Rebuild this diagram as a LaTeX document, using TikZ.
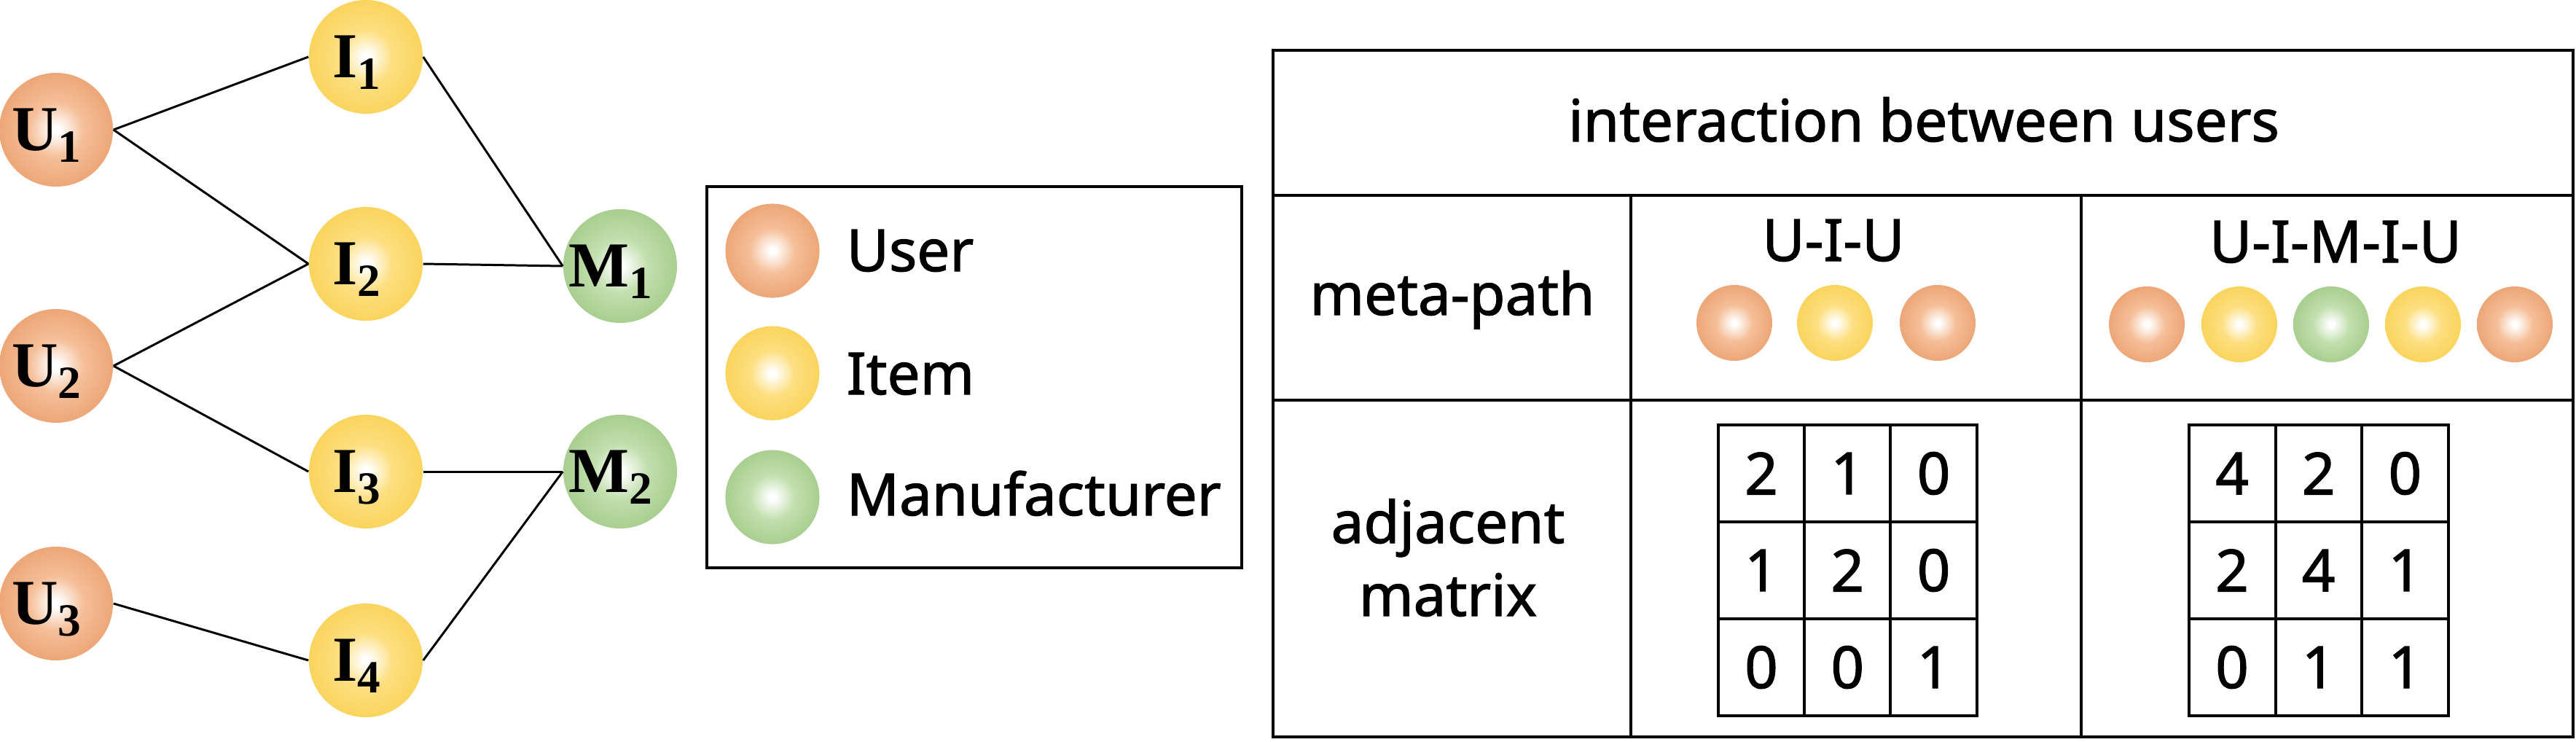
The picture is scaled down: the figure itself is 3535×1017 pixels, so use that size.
\documentclass[tikz,border=0pt]{standalone}
\usepackage{fontspec}
\setmainfont{Noto Sans}
\newfontfamily\medfont{Noto Sans}[FakeBold=1.5]
\newfontfamily\nodefont{Liberation Serif}
\definecolor{uo}{HTML}{DE8750}
\definecolor{uomid}{HTML}{F5BF99}
\definecolor{uo2}{HTML}{EA9D6A}
\definecolor{iy}{HTML}{E4B634}
\definecolor{iymid}{HTML}{FDDF80}
\definecolor{iy2}{HTML}{F8D050}
\definecolor{mg}{HTML}{84B065}
\definecolor{mgmid}{HTML}{C2DFAE}
\definecolor{mg2}{HTML}{9FC884}
\pgfdeclareradialshading{shU}{\pgfpointorigin}{color(0bp)=(white); color(1.5bp)=(white); color(12bp)=(uomid); color(30bp)=(uo2); color(44bp)=(uo); color(50bp)=(uo)}
\pgfdeclareradialshading{shI}{\pgfpointorigin}{color(0bp)=(white); color(1.5bp)=(white); color(12bp)=(iymid); color(30bp)=(iy2); color(44bp)=(iy); color(50bp)=(iy)}
\pgfdeclareradialshading{shM}{\pgfpointorigin}{color(0bp)=(white); color(1.5bp)=(white); color(12bp)=(mgmid); color(30bp)=(mg2); color(44bp)=(mg); color(50bp)=(mg)}
\newcommand\nlab[2]{#1\raisebox{-0.16cm}{\fontsize{18}{18}\selectfont #2}}
\begin{document}
\begin{tikzpicture}[x=0.01cm,y=-0.01cm,
  ball/.style={circle, inner sep=0pt, minimum size=1.56cm, draw=none},
  lball/.style={circle, inner sep=0pt, minimum size=1.29cm, draw=none},
  pball/.style={circle, inner sep=0pt, minimum size=1.04cm, draw=none},
  uball/.style={shading=shU},
  iball/.style={shading=shI},
  mball/.style={shading=shM},
  edge/.style={line width=0.85pt, black},
  frame/.style={line width=1pt, black},
  grid/.style={line width=1.1pt, black},
  lbl/.style={inner sep=0pt, text depth=0pt, font=\nodefont\bfseries\fontsize{25}{26}\selectfont},
  txt/.style={inner sep=0pt, font=\medfont\fontsize{22.7}{28}\selectfont}
]
\useasboundingbox (0,0) rectangle (3535,1017);

% graph nodes
\node[ball,uball] (U1) at (77,178) {};
\node[ball,uball] (U2) at (77,502) {};
\node[ball,uball] (U3) at (77,828) {};
\node[ball,iball] (I1) at (502,78) {};
\node[ball,iball] (I2) at (502,362) {};
\node[ball,iball] (I3) at (502,647) {};
\node[ball,iball] (I4) at (502,906) {};
\node[ball,mball] (M1) at (851,365) {};
\node[ball,mball] (M2) at (851,647) {};

\foreach \n/\a/\b in {U1/U/1,U2/U/2,U3/U/3,I1/I/1,I2/I/2,I3/I/3,I4/I/4,M1/M/1,M2/M/2}
  \node[lbl] (\n t) at ([xshift=-0.13cm]\n.center) {\nlab{\a}{\b}};

% edges
\draw[edge] (U1.east) -- (I1.west);
\draw[edge] (U1.east) -- (I2.west);
\draw[edge] (U2.east) -- (I2.west);
\draw[edge] (U2.east) -- (I3.west);
\draw[edge] (U3.east) -- (I4.west);
\draw[edge] (I1.east) -- (M1.west);
\draw[edge] (I2.east) -- (M1.west);
\draw[edge] (I3.east) -- (M2.west);
\draw[edge] (I4.east) -- (M2.west);

% legend
\draw[frame] (970,256) rectangle (1704,779);
\node[lball,uball] (LU) at (1060,344) {};
\node[lball,iball] (LI) at (1060,512) {};
\node[lball,mball] (LM) at (1060,682) {};
\node[txt,anchor=base west] (LUt) at (1161,372) {User};
\node[txt,anchor=base west] (LIt) at (1161,541) {Item};
\node[txt,anchor=base west] (LMt) at (1161,707) {Manufacturer};

% table
\draw[frame] (1747,69) rectangle (3531,1011);
\draw[frame] (1747,268) -- (3531,268);
\draw[frame] (1747,549) -- (3531,549);
\draw[frame] (2238,268) -- (2238,1011);
\draw[frame] (2856,268) -- (2856,1011);

\node[txt,anchor=base] (title) at (2640,194) {interaction between users};
\node[txt,anchor=base] (mp) at (1993,432) {meta-path};
\node[txt,anchor=base] (adj) at (1987,745) {adjacent};
\node[txt,anchor=base] (mtx) at (1987,845) {matrix};
\node[txt,anchor=base] (p1) at (2516,358) {U-I-U};
\node[txt,anchor=base] (p2) at (3205,360) {U-I-M-I-U};

\node[pball,uball] (a1) at (2380,443) {};
\node[pball,iball] (a2) at (2518,443) {};
\node[pball,uball] (a3) at (2659,443) {};

\node[pball,uball] (b1) at (2946,445) {};
\node[pball,iball] (b2) at (3073,445) {};
\node[pball,mball] (b3) at (3199,445) {};
\node[pball,iball] (b4) at (3325,445) {};
\node[pball,uball] (b5) at (3451,445) {};

% matrices
\draw[grid] (2358,583) rectangle (2713,982);
\draw[grid] (2476,583) -- (2476,982);
\draw[grid] (2594,583) -- (2594,982);
\draw[grid] (2358,716) -- (2713,716);
\draw[grid] (2358,849) -- (2713,849);

\draw[grid] (3004,583) rectangle (3360,982);
\draw[grid] (3123,583) -- (3123,982);
\draw[grid] (3241,583) -- (3241,982);
\draw[grid] (3004,716) -- (3360,716);
\draw[grid] (3004,849) -- (3360,849);

\foreach \v [count=\k from 0] in {2,1,0,1,2,0,0,0,1} {
  \pgfmathtruncatemacro\cl{mod(\k,3)}
  \pgfmathtruncatemacro\rw{div(\k,3)}
  \node[txt] (A\k) at (2417+118.3*\cl, 649.5+133*\rw) {\v};
}
\foreach \v [count=\k from 0] in {4,2,0,2,4,1,0,1,1} {
  \pgfmathtruncatemacro\cl{mod(\k,3)}
  \pgfmathtruncatemacro\rw{div(\k,3)}
  \node[txt] (B\k) at (3063+118.7*\cl, 649.5+133*\rw) {\v};
}
\end{tikzpicture}
\end{document}
